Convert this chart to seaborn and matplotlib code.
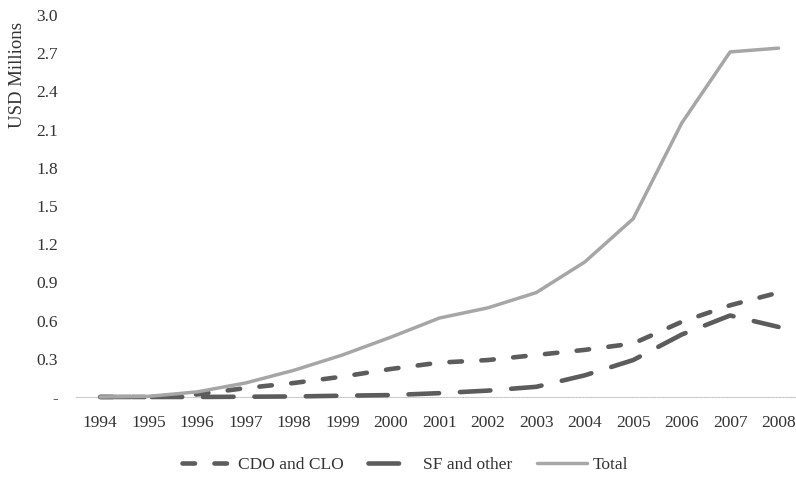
import seaborn as sns
import pandas as pd
import matplotlib.pyplot as plt

years = list(range(1994, 2009))
cdo_clo = [0.0, 0.0, 0.02, 0.07, 0.11, 0.16, 0.22, 0.27, 0.29, 0.33, 0.37, 0.42, 0.59, 0.72, 0.82]
sf_other = [0.0, 0.0, 0.0, 0.002, 0.004, 0.01, 0.015, 0.03, 0.05, 0.08, 0.17, 0.29, 0.49, 0.64, 0.55]
total = [0.0, 0.005, 0.04, 0.11, 0.21, 0.33, 0.47, 0.62, 0.70, 0.82, 1.06, 1.40, 2.15, 2.71, 2.74]
yticks = [0.0, 0.3, 0.6, 0.9, 1.2, 1.5, 1.8, 2.1, 2.4, 2.7, 3.0]

sns.set_style("white")
plt.rcParams["font.family"] = ["Liberation Serif", "DejaVu Serif"]
plt.rcParams["lines.scale_dashes"] = False

df = pd.DataFrame({"year": years, "CDO and CLO": cdo_clo,
                   "SF and other": sf_other, "Total": total})

fig = plt.figure(figsize=(7.96, 4.78), dpi=100)
ax = fig.add_axes([0.0955, 0.1695, 0.913, 0.7991])

dark = "#5c5c5c"
light = "#a6a6a6"
sns.lineplot(data=df, x="year", y="CDO and CLO", ax=ax, color=dark, lw=3.3,
             linestyle=(0, (9, 14)), dash_capstyle="round", clip_on=False,
             label="CDO and CLO")
sns.lineplot(data=df, x="year", y="SF and other", ax=ax, color=dark, lw=3.3,
             linestyle=(0, (22, 15)), dash_capstyle="round", clip_on=False,
             label="SF and other")
sns.lineplot(data=df, x="year", y="Total", ax=ax, color=light, lw=2.5,
             solid_capstyle="round", clip_on=False, label="Total")

ax.set_xlim(1993.5, 2008.5)
ax.set_ylim(0, 3.0)
ax.set_xticks(years)
ax.set_xticklabels([str(y) for y in years])
ax.set_yticks(yticks)
ax.set_yticklabels(["-" if v == 0 else f"{v:.1f}" for v in yticks])
ax.tick_params(axis="both", length=0, labelsize=12.5, colors="#333333")
ax.tick_params(axis="y", pad=13)
ax.tick_params(axis="x", pad=13)

for s in ["top", "right", "left"]:
    ax.spines[s].set_visible(False)
ax.spines["bottom"].set_color("#c8c8c8")
ax.spines["bottom"].set_linewidth(0.8)
ax.spines["bottom"].set_linestyle((0, (1, 1)))
ax.spines["bottom"].set_zorder(0)

ax.set_xlabel("")
ax.set_ylabel("USD Millions", fontsize=13.5, color="#333333")
ax.yaxis.set_label_coords(-0.069, 0.843)

ax.legend(loc="center", bbox_to_anchor=(0.509, 0.028), bbox_transform=fig.transFigure,
          ncol=3, frameon=False, fontsize=12.5, handlelength=2.9,
          columnspacing=1.4, handletextpad=0.3)
for t in ax.get_legend().get_texts():
    t.set_color("#333333")

fig.savefig("out.png", dpi=100)
